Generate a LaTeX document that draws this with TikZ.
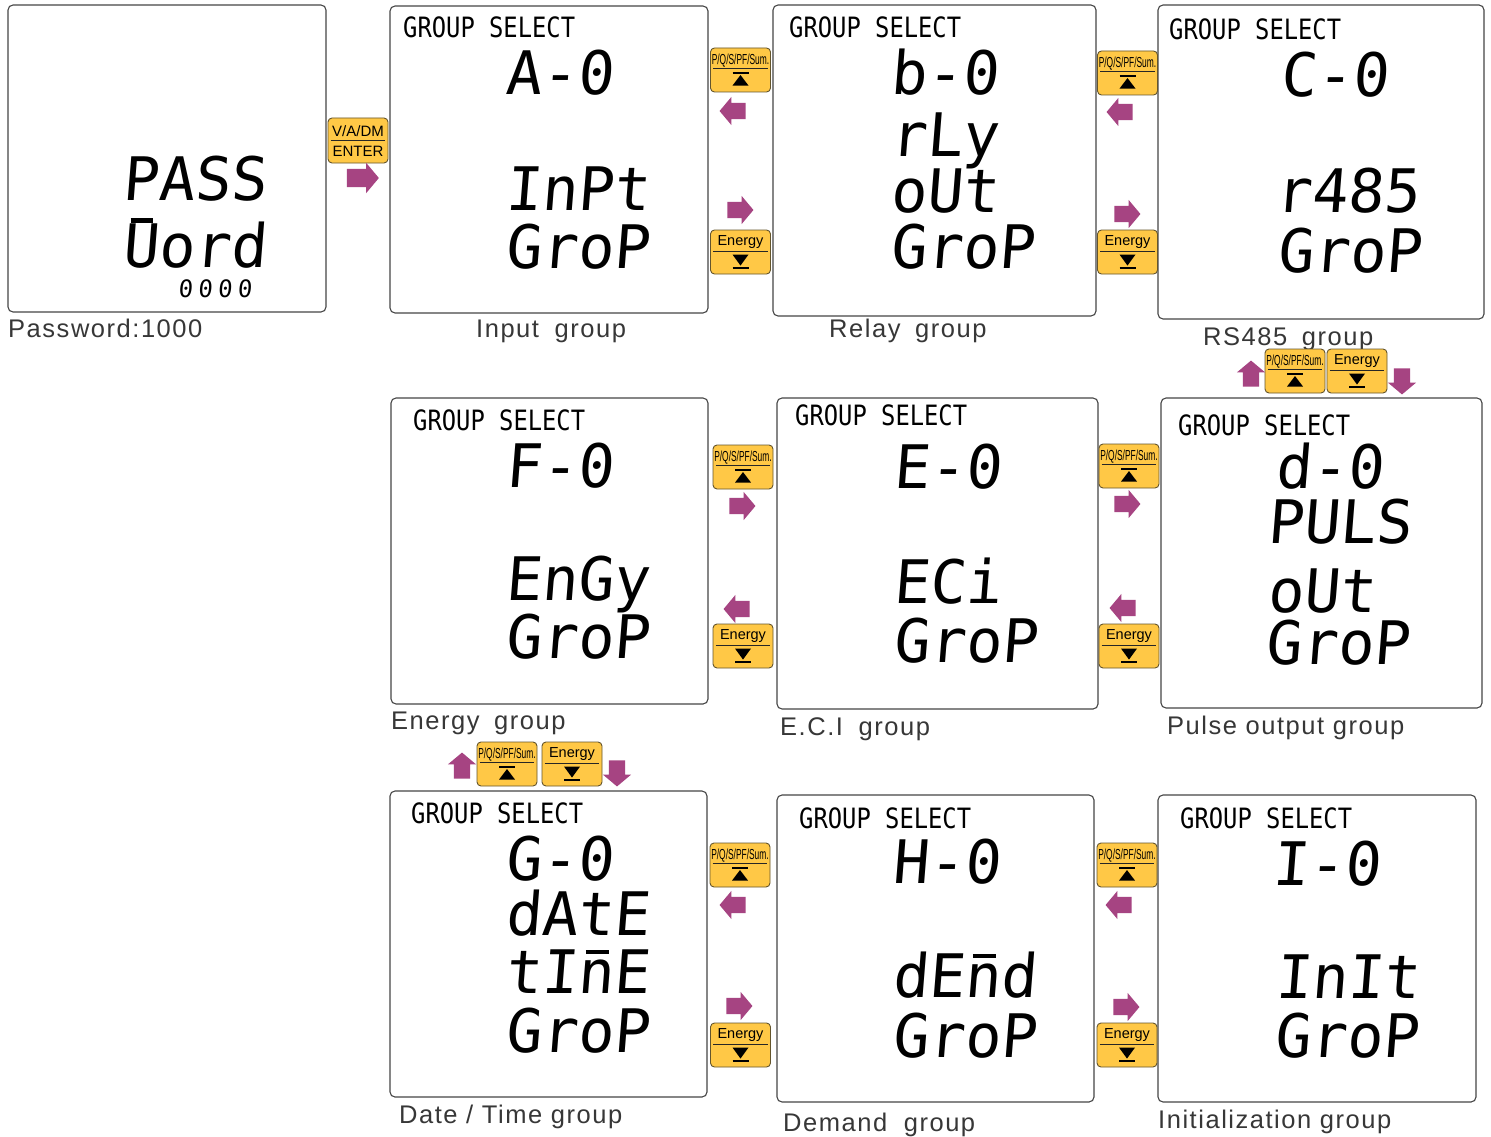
\documentclass[tikz,border=0pt]{standalone}
\usepackage{fontspec}
\setmainfont{Liberation Sans}
\newfontfamily\lcdfont[FakeSlant=0.08]{DejaVu Sans Mono}
\newfontfamily\hdrfont[FakeStretch=0.85]{DejaVu Sans Mono}
\newfontfamily\lblfont[LetterSpace=6]{Liberation Sans}
\newfontfamily\keyfont[FakeStretch=0.58]{Liberation Sans}
\usetikzlibrary{shapes.arrows,calc}
\definecolor{ScrLine}{RGB}{70,70,70}
\definecolor{KeyFill}{RGB}{255,200,70}
\definecolor{KeyLine}{RGB}{100,85,45}
\definecolor{MoveArr}{RGB}{166,68,130}
\definecolor{LblText}{RGB}{55,55,55}
\tikzset{
  scr_box/.style={
    rectangle, rounded corners=5pt,
    draw=ScrLine, line width=1.1pt, inner sep=0pt},
  lcd_hdr/.style={
    anchor=base west, inner sep=0pt,
    font=\hdrfont\fontsize{28}{28}\selectfont},
  lcd_big/.style={
    anchor=base west, inner sep=0pt,
    font=\lcdfont\fontsize{60}{60}\selectfont},
  lcd_small/.style={
    anchor=base west, inner sep=0pt,
    font=\lcdfont\fontsize{24}{24}\selectfont\addfontfeature{LetterSpace=22}},
  lbl/.style={
    anchor=base west, inner sep=0pt, text=LblText,
    font=\lblfont\fontsize{25.5}{25.5}\selectfont},
  key_box/.style={
    rectangle, rounded corners=4pt,
    draw=KeyLine, fill=KeyFill, line width=0.9pt,
    minimum width=60pt, minimum height=44pt, inner sep=0pt},
  key_sep/.style={draw=black!85, line width=0.9pt},
  key_pq/.style={anchor=base, inner sep=0pt,
    font=\keyfont\fontsize{14.5}{14.5}\selectfont},
  key_en/.style={anchor=base, inner sep=0pt,
    font=\fontsize{14.5}{14.5}\selectfont},
  blk_arr/.style={
    single arrow, fill=MoveArr, inner sep=0pt, inner ysep=8pt,
    minimum height=26pt, single arrow head extend=6pt,
    single arrow tip angle=100},
}
% wide word gap of the captions
\newcommand{\wgap}[1][6pt]{\hspace{#1}\ }
% top bar of a segment character
\newcommand{\segbar}[2][0.655em]{%
  \makebox[0pt][l]{\hspace{0.14em}\raisebox{#1}{\rule{0.38em}{0.07em}}}#2}
\newcommand{\keyPQ}[3]{%
  \node[key_box] (#1) at (#2,#3+22) {};
  \node[key_pq] (#1t) at ($(#1.north)+(0,17)$) {P/Q/S/PF/Sum.};
  \draw[key_sep] ($(#1.north west)+(3,21)$) -- ($(#1.north east)+(-3,21)$);
  \draw[line width=2pt] ($(#1.north)+(-8,25)$) -- ($(#1.north)+(8,25)$);
  \fill ($(#1.north)+(-8,38)$) -- ($(#1.north)+(8,38)$)
    -- ($(#1.north)+(0,27.5)$) -- cycle;
}
\newcommand{\keyEn}[3]{%
  \node[key_box] (#1) at (#2,#3+22) {};
  \node[key_en] (#1t) at ($(#1.north)+(0,16)$) {Energy};
  \draw[key_sep] ($(#1.north west)+(3,22)$) -- ($(#1.north east)+(-3,22)$);
  \fill ($(#1.north)+(-8,25)$) -- ($(#1.north)+(8,25)$)
    -- ($(#1.north)+(0,36)$) -- cycle;
  \draw[line width=2pt] ($(#1.north)+(-8,38)$) -- ($(#1.north)+(8,38)$);
}

\begin{document}
\begin{tikzpicture}[x=1pt,y=-1pt]
\fill[white] (0,0) rectangle (1491,1137);
\useasboundingbox (0,0) rectangle (1491,1137);

%% screens
\node[scr_box, minimum width=318pt, minimum height=307pt] (scr_pw)  at (167,158.5)  {};
\node[scr_box, minimum width=318pt, minimum height=307pt] (scr_in)  at (549,159.5)  {};
\node[scr_box, minimum width=323pt, minimum height=311pt] (scr_rly) at (934.5,160.5) {};
\node[scr_box, minimum width=326pt, minimum height=314pt] (scr_485) at (1321,162)   {};
\node[scr_box, minimum width=317pt, minimum height=306pt] (scr_eng) at (549.5,551)  {};
\node[scr_box, minimum width=321pt, minimum height=311pt] (scr_eci) at (937.5,553.5) {};
\node[scr_box, minimum width=321pt, minimum height=310pt] (scr_pul) at (1321.5,553) {};
\node[scr_box, minimum width=317pt, minimum height=306pt] (scr_dat) at (548.5,944)  {};
\node[scr_box, minimum width=317pt, minimum height=307pt] (scr_dmd) at (935.5,948.5) {};
\node[scr_box, minimum width=318pt, minimum height=307pt] (scr_ini) at (1317,948.5) {};

%% Password
\node[lcd_big]   (pw1) at (122,200) {PASS};
\node[lcd_big]   (pw2) at (122,267) {\segbar[0.74em]{U}ord};
\node[lcd_small] (pw3) at (178,297) {0000};

%% Row 1
\node[lcd_hdr] (hd_in) at (403,38) {GROUP SELECT};
\node[lcd_big] (cd_in) at (505,95)  {A-0};
\node[lcd_big] (ta_in) at (505,210) {InPt};
\node[lcd_big] (tb_in) at (505,268) {GroP};

\node[lcd_hdr] (hd_rly) at (789,38) {GROUP SELECT};
\node[lcd_big] (cd_rly) at (890,95)  {b-0};
\node[lcd_big] (ta_rly) at (890,157) {rLy};
\node[lcd_big] (tb_rly) at (890,212) {oUt};
\node[lcd_big] (tc_rly) at (890,268) {GroP};

\node[lcd_hdr] (hd_485) at (1169,40) {GROUP SELECT};
\node[lcd_big] (cd_485) at (1280,97)  {C-0};
\node[lcd_big] (ta_485) at (1275,212) {r485};
\node[lcd_big] (tb_485) at (1277,272) {GroP};

%% Row 2
\node[lcd_hdr] (hd_eng) at (413,430) {GROUP SELECT};
\node[lcd_big] (cd_eng) at (505,487) {F-0};
\node[lcd_big] (ta_eng) at (505,600) {EnGy};
\node[lcd_big] (tb_eng) at (505,658) {GroP};

\node[lcd_hdr] (hd_eci) at (795,425) {GROUP SELECT};
\node[lcd_big] (cd_eci) at (893,488) {E-0};
\node[lcd_big] (ta_eci) at (893,603) {ECi};
\node[lcd_big] (tb_eci) at (893,662) {GroP};

\node[lcd_hdr] (hd_pul) at (1178,435) {GROUP SELECT};
\node[lcd_big] (cd_pul) at (1275,488) {d-0};
\node[lcd_big] (ta_pul) at (1267,543) {PULS};
\node[lcd_big] (tb_pul) at (1267,612) {oUt};
\node[lcd_big] (tc_pul) at (1265,664) {GroP};

%% Row 3
\node[lcd_hdr] (hd_dat) at (411,823) {GROUP SELECT};
\node[lcd_big] (cd_dat) at (505,880)  {G-0};
\node[lcd_big] (ta_dat) at (505,935)  {dAtE};
\node[lcd_big] (tb_dat) at (505,993)  {tI\segbar{n}E};
\node[lcd_big] (tc_dat) at (505,1052) {GroP};

\node[lcd_hdr] (hd_dmd) at (799,828) {GROUP SELECT};
\node[lcd_big] (cd_dmd) at (892,883)  {H-0};
\node[lcd_big] (ta_dmd) at (892,997)  {dE\segbar{n}d};
\node[lcd_big] (tb_dmd) at (892,1057) {GroP};

\node[lcd_hdr] (hd_ini) at (1180,828) {GROUP SELECT};
\node[lcd_big] (cd_ini) at (1272,885)  {I-0};
\node[lcd_big] (ta_ini) at (1275,998)  {InIt};
\node[lcd_big] (tb_ini) at (1274,1057) {GroP};

%% labels
\node[lbl] (lb_pw)  at (8,337)     {Password:1000};
\node[lbl] (lb_in)  at (476,337)   {Input\wgap[7pt]group};
\node[lbl] (lb_rly) at (829,337)   {Relay\wgap group};
\node[lbl] (lb_485) at (1203,345)  {RS485\wgap group};
\node[lbl] (lb_eng) at (391,729)   {Energy\wgap group};
\node[lbl] (lb_eci) at (780,735)   {E.C.I\wgap[7pt]group};
\node[lbl] (lb_pul) at (1167,734)  {Pulse output group};
\node[lbl] (lb_dat) at (399,1123)  {Date / Time group};
\node[lbl] (lb_dmd) at (783,1131)  {Demand\wgap[8pt]group};
\node[lbl] (lb_ini) at (1158,1128) {Initialization group};

%% keys
\node[key_box, minimum height=45pt] (k_ent) at (358,140.5) {};
\node[key_en, font=\fontsize{15}{15}\selectfont] (k_ent1) at ($(k_ent.north)+(0,19)$) {V/A/DM};
\draw[key_sep] ($(k_ent.north west)+(3,23)$) -- ($(k_ent.north east)+(-3,23)$);
\node[key_en, font=\fontsize{15}{15}\selectfont] (k_ent2) at ($(k_ent.north)+(0,39)$) {ENTER};

\keyPQ{kp1}{740.5}{48}  \keyEn{ke1}{740.5}{230}
\keyPQ{kp2}{1127.5}{51} \keyEn{ke2}{1127.5}{230}
\keyPQ{kp3}{743}{445}   \keyEn{ke3}{743}{624}
\keyPQ{kp4}{1129}{444}  \keyEn{ke4}{1129}{624}
\keyPQ{kp5}{740}{843}   \keyEn{ke5}{740.5}{1023}
\keyPQ{kp6}{1127}{843}  \keyEn{ke6}{1127}{1023}
\keyPQ{kp7}{1295}{349}  \keyEn{ke7}{1357}{349}
\keyPQ{kp8}{507}{742}   \keyEn{ke8}{572}{742}

%% arrows
\node[blk_arr, minimum height=32pt, inner ysep=9pt] (mv_ent) at (359,178) {};
\foreach \n/\x/\y/\r in {mv_l1/736/111/180, mv_r1/737/210/0,
    mv_l2/1123/112/180, mv_r2/1124/214/0,
    mv_r3/739/506/0, mv_l3/740/609/180,
    mv_r4/1124/504/0, mv_l4/1126/608/180,
    mv_l5/736/905/180, mv_r5/736/1006/0,
    mv_l6/1122/905/180, mv_r6/1123/1007/0,
    mv_u7/1251/377/90, mv_d7/1402/378/270,
    mv_u8/462/769/90, mv_d8/617/770/270}
  {\node[blk_arr, rotate=\r] (\n) at (\x,\y) {};}

\end{tikzpicture}
\end{document}
